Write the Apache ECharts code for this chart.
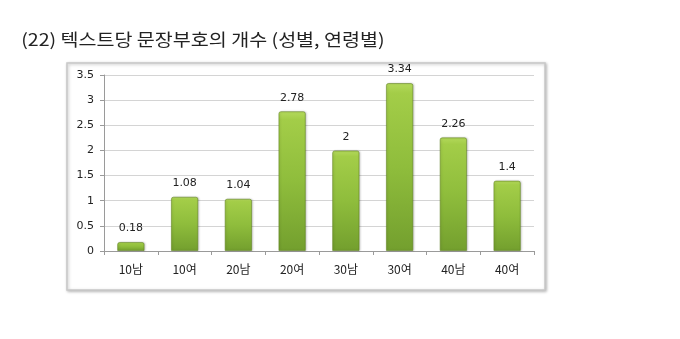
<!DOCTYPE html>
<html>
<head>
<meta charset="utf-8">
<script src="https://cdn.jsdelivr.net/npm/echarts@6/dist/echarts.min.js"></script>
<style>
  html, body { margin: 0; padding: 0; background: #ffffff; }
  #chart { width: 680px; height: 339px; }
</style>
</head>
<body>
<div id="chart"></div>
<script>
// Punctuation marks per text, by gender and age group
const titleText = '(22) 텍스트당 문장부호의 개수 (성별, 연령별)';
const categories = ['10남', '10여', '20남', '20여', '30남', '30여', '40남', '40여'];
const values = [0.18, 1.08, 1.04, 2.78, 2, 3.34, 2.26, 1.4];
const yTicks = [0, 0.5, 1, 1.5, 2, 2.5, 3, 3.5];

const chart = echarts.init(document.getElementById('chart'), null, { renderer: 'canvas' });

// light yellow-green at the top of each bar, deeper green towards the base
const barFill = new echarts.graphic.LinearGradient(0, 0, 0, 1, [
  { offset: 0, color: '#b4d95c' },
  { offset: 0.06, color: '#a3cd48' },
  { offset: 0.5, color: '#8fbd3c' },
  { offset: 1, color: '#739f2e' }
]);

chart.setOption({
  animation: false,
  backgroundColor: '#ffffff',
  graphic: [
    {
      type: 'text',
      x: 25,
      y: 40,
      originX: 25,
      scaleX: 1.15,
      style: {
        text: titleText,
        font: '17px "Noto Sans CJK KR", sans-serif',
        fill: '#222222',
        verticalAlign: 'middle',
        align: 'left'
      }
    },
    {
      type: 'rect',
      z: -1,
      shape: { x: 67, y: 63, width: 478, height: 227 },
      style: {
        fill: '#ffffff',
        stroke: '#c8c8c8',
        lineWidth: 1.5,
        shadowBlur: 3,
        shadowColor: 'rgba(0,0,0,0.25)',
        shadowOffsetX: 1,
        shadowOffsetY: 1
      }
    }
  ],
  grid: {
    left: 104,
    right: 146,
    top: 75,
    bottom: 88,
    containLabel: false
  },
  xAxis: {
    type: 'category',
    data: categories,
    axisLine: { lineStyle: { color: '#9a9a9a', width: 1 } },
    axisTick: { show: true, alignWithLabel: false, length: 4, lineStyle: { color: '#9a9a9a' } },
    axisLabel: {
      margin: 12,
      fontFamily: '"Noto Sans CJK KR", sans-serif',
      fontSize: 12,
      color: '#222222'
    }
  },
  yAxis: {
    type: 'value',
    min: 0,
    max: 3.5,
    interval: 0.5,
    axisLine: { show: true, lineStyle: { color: '#9a9a9a', width: 1 } },
    axisTick: { show: true, length: 4, lineStyle: { color: '#9a9a9a' } },
    splitLine: { lineStyle: { color: '#d4d4d4', width: 1 } },
    axisLabel: {
      margin: 10,
      fontFamily: '"DejaVu Sans", sans-serif',
      fontSize: 11,
      color: '#222222',
      formatter: function (v) {
        const t = yTicks.find(function (k) { return Math.abs(k - v) < 1e-9; });
        return t === undefined ? '' : String(t);
      }
    }
  },
  series: [
    {
      type: 'bar',
      data: values,
      barWidth: '51%',
      itemStyle: {
        color: barFill,
        borderColor: 'rgba(95,130,30,0.55)',
        borderWidth: 1,
        borderRadius: [2, 2, 0, 0],
        shadowBlur: 2,
        shadowColor: 'rgba(0,0,0,0.2)',
        shadowOffsetX: 1,
        shadowOffsetY: 0
      },
      label: {
        show: true,
        position: 'top',
        distance: 8,
        fontFamily: '"DejaVu Sans", sans-serif',
        fontSize: 11,
        color: '#222222'
      }
    }
  ]
});
</script>
</body>
</html>
